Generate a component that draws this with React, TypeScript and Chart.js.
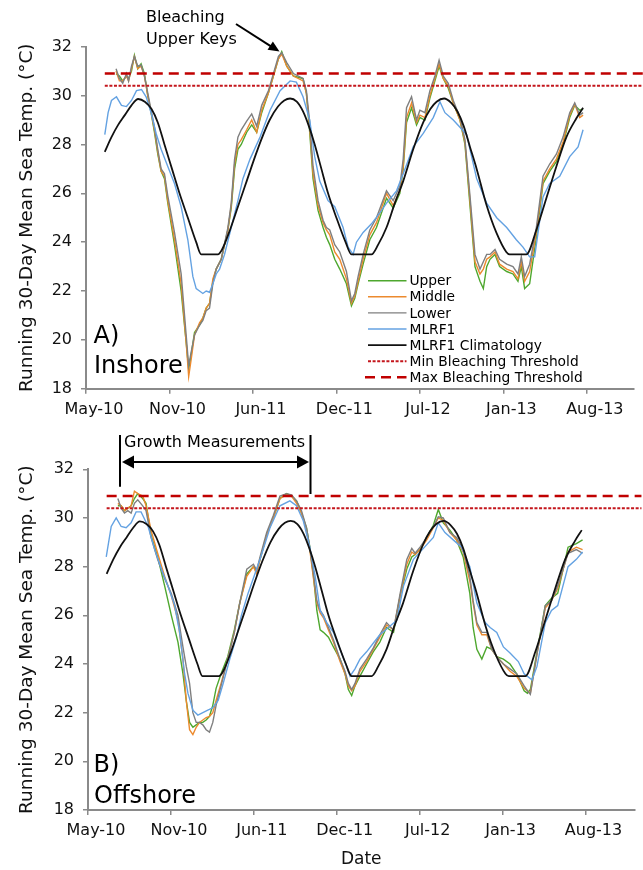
import React, { useEffect, useRef } from 'react';
import { Chart, registerables } from 'chart.js';

Chart.register(...registerables);

// ---------- axis ticks ----------
const tickDays = [0, 200, 400, 600, 800, 1000, 1200]; // days since 1 May 2010
const tickLabels = ['May-10', 'Nov-10', 'Jun-11', 'Dec-11', 'Jul-12', 'Jan-13', 'Aug-13'];

// ---------- bleaching thresholds ----------
const thresholdDays = [45, 1335];
const minThreshold = [30.4, 30.4];
const maxThreshold = [30.9, 30.9];

// ---------- MLRF1 climatology (both panels) ----------
const climDays = [45, 61, 77, 93, 109, 125, 141, 157, 172, 188, 206, 224, 244, 264, 276, 316, 326, 345, 365, 385, 405, 420, 440, 460, 475, 489, 505, 520, 535, 548, 564, 580, 600, 622, 636, 684, 700, 720, 740, 760, 784, 808, 825, 840, 858, 875, 890, 905, 920, 936, 960, 983, 1007, 1015, 1055, 1079, 1103, 1127, 1151, 1175, 1191];
const climTemps = [27.7, 28.3, 28.8, 29.2, 29.6, 29.86, 29.75, 29.45, 28.9, 28.0, 27.0, 26.0, 25.0, 24.0, 23.5, 23.5, 23.7, 24.5, 25.5, 26.5, 27.5, 28.2, 29.0, 29.55, 29.8, 29.88, 29.75, 29.35, 28.7, 28.0, 27.0, 26.0, 25.0, 24.0, 23.5, 23.5, 23.9, 24.6, 25.6, 26.5, 27.8, 28.9, 29.45, 29.75, 29.88, 29.7, 29.35, 28.75, 27.9, 27.0, 25.5, 24.4, 23.6, 23.5, 23.5, 24.5, 25.8, 27.1, 28.3, 29.07, 29.5];

// ---------- A) Inshore ----------
const inshoreReefDays = [72, 80, 88, 97, 102, 109, 116, 124, 132, 140, 148, 156, 164, 172, 180, 188, 196, 212, 228, 240, 246, 252, 260, 272, 280, 288, 296, 304, 312, 324, 340, 348, 356, 364, 372, 385, 397, 409, 421, 437, 449, 461, 469, 481, 497, 520, 528, 536, 544, 556, 568, 576, 584, 596, 608, 624, 636, 644, 652, 664, 680, 696, 720, 736, 752, 760, 768, 780, 792, 800, 812, 824, 836, 846, 856, 868, 880, 896, 908, 920, 932, 944, 952, 960, 968, 980, 991, 1008, 1023, 1035, 1043, 1051, 1063, 1079, 1095, 1111, 1127, 1143, 1159, 1171, 1183, 1191];
const inshoreUpper = [30.9, 30.8, 30.6, 30.8, 30.7, 31.0, 31.65, 31.1, 31.3, 30.9, 30.0, 29.3, 28.5, 27.6, 26.9, 26.6, 25.6, 23.9, 22.0, 19.9, 18.8, 19.4, 20.3, 20.6, 20.9, 21.3, 21.5, 22.4, 22.9, 23.3, 24.5, 25.4, 27.0, 27.8, 28.0, 28.5, 28.8, 28.5, 29.3, 30.1, 30.8, 31.5, 31.8, 31.2, 30.8, 30.7, 30.1, 28.5, 26.6, 25.3, 24.6, 24.2, 23.9, 23.3, 22.9, 22.3, 21.4, 21.7, 22.3, 23.1, 24.1, 24.6, 25.8, 25.4, 26.0, 27.0, 28.9, 29.5, 28.8, 29.1, 29.0, 29.9, 30.6, 31.2, 30.7, 30.3, 29.7, 29.0, 28.0, 25.5, 23.0, 22.4, 22.1, 23.0, 23.3, 23.5, 23.0, 22.8, 22.7, 22.4, 23.0, 22.1, 22.3, 24.2, 26.4, 26.9, 27.3, 28.0, 29.1, 29.6, 29.4, 29.45];
const inshoreMiddle = [31.0, 30.6, 30.6, 30.8, 30.6, 31.1, 31.6, 31.1, 31.2, 30.8, 30.0, 29.3, 28.6, 27.7, 26.9, 26.7, 25.7, 24.1, 22.3, 19.9, 18.5, 19.2, 20.2, 20.7, 20.9, 21.3, 21.5, 22.5, 22.9, 23.3, 24.5, 25.5, 27.2, 28.0, 28.2, 28.6, 29.0, 28.5, 29.4, 30.1, 30.8, 31.5, 31.7, 31.2, 30.8, 30.6, 30.1, 28.7, 26.8, 25.5, 24.8, 24.5, 24.3, 23.6, 23.3, 22.5, 21.5, 21.8, 22.4, 23.3, 24.3, 24.8, 26.0, 25.5, 26.1, 27.1, 29.1, 29.7, 28.9, 29.2, 29.1, 30.0, 30.7, 31.3, 30.7, 30.4, 29.7, 29.0, 28.1, 25.7, 23.2, 22.7, 22.9, 23.3, 23.4, 23.6, 23.1, 22.9, 22.8, 22.5, 23.2, 22.4, 22.8, 24.4, 26.5, 27.0, 27.4, 28.1, 29.2, 29.65, 29.1, 29.2];
const inshoreLower = [31.1, 30.7, 30.5, 30.9, 30.6, 31.2, 31.6, 31.2, 31.25, 30.8, 30.1, 29.4, 28.7, 27.8, 27.0, 26.8, 25.9, 24.4, 22.7, 20.2, 18.95, 19.5, 20.2, 20.6, 20.8, 21.2, 21.3, 22.3, 22.9, 23.3, 24.6, 25.6, 27.4, 28.3, 28.6, 28.95, 29.25, 28.75, 29.6, 30.2, 30.9, 31.6, 31.75, 31.35, 30.9, 30.7, 30.2, 28.9, 27.1, 25.7, 24.9, 24.6, 24.5, 23.9, 23.6, 22.8, 21.6, 21.9, 22.6, 23.5, 24.5, 25.0, 26.1, 25.7, 26.3, 27.4, 29.5, 29.95, 29.0, 29.4, 29.3, 30.2, 30.8, 31.45, 30.8, 30.5, 29.8, 29.1, 28.2, 25.9, 23.5, 22.9, 23.2, 23.5, 23.5, 23.7, 23.3, 23.1, 23.0, 22.7, 23.4, 22.6, 23.1, 24.6, 26.7, 27.2, 27.6, 28.3, 29.3, 29.7, 29.2, 29.3];
const inshoreBuoyDays = [45, 53, 61, 73, 85, 97, 109, 121, 133, 144, 156, 168, 180, 196, 212, 228, 244, 256, 264, 272, 280, 288, 296, 304, 312, 320, 332, 348, 364, 376, 393, 417, 441, 465, 489, 504, 520, 536, 548, 560, 580, 596, 616, 628, 640, 648, 664, 684, 704, 720, 744, 760, 784, 808, 832, 848, 860, 880, 896, 912, 936, 960, 984, 1008, 1031, 1047, 1063, 1075, 1095, 1111, 1135, 1159, 1179, 1191];
const inshoreBuoy = [28.4, 29.3, 29.8, 29.95, 29.6, 29.55, 29.8, 30.2, 30.25, 29.95, 29.3, 28.45, 27.8, 27.1, 26.4, 25.45, 24.1, 22.6, 22.1, 22.0, 21.9, 22.0, 21.95, 22.3, 22.7, 22.9, 23.5, 24.6, 25.7, 26.6, 27.4, 28.3, 29.4, 30.2, 30.6, 30.55, 29.95, 29.0, 27.5, 26.5, 25.7, 25.45, 24.6, 23.8, 23.5, 24.0, 24.4, 24.75, 25.2, 25.6, 26.1, 26.8, 27.9, 28.45, 29.1, 29.75, 29.3, 29.0, 28.7, 28.4, 26.6, 25.6, 25.0, 24.6, 24.1, 23.8, 23.4, 23.4, 25.85, 26.4, 26.7, 27.5, 27.9, 28.6];

// ---------- B) Offshore ----------
const offshoreReefDays = [72, 80, 88, 96, 104, 112, 120, 132, 140, 152, 168, 185, 201, 217, 229, 237, 245, 253, 261, 269, 277, 285, 293, 301, 309, 321, 337, 353, 366, 383, 399, 407, 415, 431, 447, 463, 479, 491, 503, 515, 527, 535, 544, 552, 560, 568, 580, 592, 608, 620, 628, 636, 644, 656, 672, 688, 704, 720, 737, 753, 769, 781, 789, 801, 817, 833, 845, 857, 873, 889, 905, 921, 929, 938, 950, 962, 974, 986, 1002, 1018, 1034, 1052, 1060, 1067, 1083, 1103, 1118, 1133, 1158, 1178, 1193];
const offshoreUpper = [30.5, 30.5, 30.3, 30.4, 30.5, 30.8, 31.0, 30.8, 30.6, 29.3, 28.4, 27.2, 26.0, 24.9, 23.6, 22.5, 21.6, 21.4, 21.5, 21.6, 21.6, 21.7, 21.85, 22.3, 23.0, 23.6, 24.3, 25.4, 26.5, 27.7, 28.0, 27.8, 28.3, 29.3, 30.0, 30.8, 31.0, 30.9, 30.7, 30.2, 29.6, 28.8, 27.6, 26.2, 25.4, 25.3, 25.1, 24.7, 24.2, 23.6, 22.95, 22.7, 23.1, 23.5, 24.0, 24.5, 24.9, 25.5, 25.3, 26.8, 27.9, 28.4, 28.5, 28.7, 29.2, 29.7, 30.35, 29.8, 29.5, 29.1, 28.4, 26.9, 25.5, 24.6, 24.2, 24.7, 24.6, 24.3, 24.2, 24.0, 23.6, 22.9, 22.8, 22.95, 24.5, 26.4, 26.7, 26.9, 28.8, 28.95, 29.1];
const offshoreMiddle = [30.6, 30.5, 30.3, 30.4, 30.5, 31.1, 31.0, 30.9, 30.5, 29.5, 28.55, 27.6, 26.8, 25.8, 24.2, 22.5, 21.3, 21.1, 21.4, 21.6, 21.7, 21.8, 21.85, 22.0, 22.5, 23.2, 24.2, 25.3, 26.5, 27.6, 28.0, 27.7, 28.3, 29.3, 30.0, 30.8, 30.95, 30.9, 30.6, 30.2, 29.5, 28.7, 27.5, 26.5, 26.1, 25.9, 25.4, 24.9, 24.1, 23.6, 23.1, 22.9, 23.1, 23.7, 24.1, 24.6, 25.1, 25.6, 25.4, 26.8, 28.1, 28.6, 28.5, 28.7, 29.1, 29.6, 30.0, 29.9, 29.4, 29.1, 28.6, 27.4, 26.5, 25.6, 25.2, 25.2, 24.6, 24.3, 24.0, 23.7, 23.5, 23.0, 22.9, 22.8, 24.4, 26.3, 26.6, 27.1, 28.6, 28.8, 28.7];
const offshoreLower = [30.8, 30.4, 30.2, 30.3, 30.2, 30.6, 30.75, 30.5, 30.3, 29.2, 28.3, 27.5, 26.9, 26.0, 24.7, 23.9, 23.2, 22.0, 21.6, 21.6, 21.5, 21.3, 21.2, 21.6, 22.3, 23.1, 24.2, 25.3, 26.5, 27.9, 28.1, 27.85, 28.4, 29.4, 30.1, 30.9, 31.0, 30.95, 30.7, 30.3, 29.6, 28.8, 27.7, 26.6, 26.2, 26.0, 25.5, 25.0, 24.2, 23.7, 23.2, 22.95, 23.2, 23.8, 24.2, 24.65, 25.2, 25.7, 25.4, 26.9, 28.3, 28.75, 28.55, 28.8, 29.2, 29.65, 30.05, 30.0, 29.4, 29.2, 28.7, 27.6, 26.6, 25.7, 25.3, 25.3, 24.6, 24.3, 24.0, 23.8, 23.6, 23.1, 22.9, 22.75, 24.4, 26.4, 26.6, 27.2, 28.55, 28.7, 28.55];
const offshoreBuoyDays = [44, 56, 68, 80, 92, 104, 116, 128, 145, 161, 177, 193, 209, 221, 233, 241, 253, 265, 277, 289, 301, 314, 326, 342, 358, 370, 386, 415, 439, 463, 487, 503, 519, 535, 548, 560, 576, 592, 608, 624, 632, 644, 656, 672, 688, 704, 728, 745, 761, 785, 809, 833, 845, 861, 881, 901, 921, 938, 958, 970, 986, 1002, 1018, 1038, 1052, 1071, 1083, 1103, 1118, 1133, 1158, 1178, 1193];
const offshoreBuoy = [28.4, 29.65, 30.0, 29.65, 29.6, 29.8, 30.25, 30.25, 29.65, 28.7, 27.9, 27.2, 26.4, 25.3, 23.6, 22.8, 22.1, 21.9, 22.0, 22.1, 22.2, 22.5, 23.2, 24.2, 25.1, 26.0, 26.9, 28.3, 29.6, 30.5, 30.7, 30.5, 29.9, 28.8, 27.6, 26.2, 25.7, 25.3, 24.6, 23.9, 23.5, 23.8, 24.2, 24.5, 24.85, 25.2, 25.55, 25.8, 27.2, 28.3, 28.75, 29.2, 29.8, 29.4, 29.1, 28.8, 28.0, 26.5, 25.7, 25.5, 25.3, 24.7, 24.45, 24.1, 23.6, 23.35, 23.9, 25.7, 26.2, 26.4, 28.0, 28.3, 28.6];

// ---------- styling ----------
const FONT = "'DejaVu Sans', 'Liberation Sans', sans-serif";
const AXIS = '#8a8a8a';
const GREEN = '#4EA72E';
const ORANGE = '#EC8A2E';
const GRAY = '#7F7F7F';
const BLUE = '#64A2E2';
const BLACK = '#111111';
const RED_DOT = '#C4161C';
const RED_DASH = '#C00000';

const pts = (days: number[], temps: number[]) => days.map((x, i) => ({ x, y: temps[i] }));

function arrowHead(ctx: CanvasRenderingContext2D, fx: number, fy: number, tx: number, ty: number, len: number, half: number) {
  const a = Math.atan2(ty - fy, tx - fx);
  const bx = tx - len * Math.cos(a);
  const by = ty - len * Math.sin(a);
  ctx.beginPath();
  ctx.moveTo(tx, ty);
  ctx.lineTo(bx + half * Math.sin(a), by - half * Math.cos(a));
  ctx.lineTo(bx - half * Math.sin(a), by + half * Math.cos(a));
  ctx.closePath();
  ctx.fill();
}

function makeConfig(isTop: boolean): any {
  const datasets: any[] = [
    { label: 'Upper', data: pts(isTop ? inshoreReefDays : offshoreReefDays, isTop ? inshoreUpper : offshoreUpper), borderColor: GREEN, borderWidth: 1.4 },
    { label: 'Middle', data: pts(isTop ? inshoreReefDays : offshoreReefDays, isTop ? inshoreMiddle : offshoreMiddle), borderColor: ORANGE, borderWidth: 1.4 },
    { label: 'Lower', data: pts(isTop ? inshoreReefDays : offshoreReefDays, isTop ? inshoreLower : offshoreLower), borderColor: GRAY, borderWidth: 1.4 },
    { label: 'MLRF1', data: pts(isTop ? inshoreBuoyDays : offshoreBuoyDays, isTop ? inshoreBuoy : offshoreBuoy), borderColor: BLUE, borderWidth: 1.4 },
    { label: 'MLRF1 Climatology', data: pts(climDays, climTemps), borderColor: BLACK, borderWidth: 1.8, cubicInterpolationMode: 'monotone' },
    { label: 'Min Bleaching Threshold', data: pts(thresholdDays, minThreshold), borderColor: RED_DOT, borderWidth: 2, borderDash: [3, 1.6], clip: false },
    { label: 'Max Bleaching Threshold', data: pts(thresholdDays, maxThreshold), borderColor: RED_DASH, borderWidth: 2.5, borderDash: [10, 6], clip: false },
  ].map((d, i) => ({ ...d, pointRadius: 0, tension: 0, fill: false, order: -i, backgroundColor: d.borderColor }));

  const annotations = {
    id: isTop ? 'annotTop' : 'annotBottom',
    afterDraw(chart: any) {
      const ctx: CanvasRenderingContext2D = chart.ctx;
      ctx.save();
      ctx.fillStyle = '#000';
      ctx.strokeStyle = '#000';
      ctx.textAlign = 'left';
      ctx.textBaseline = 'alphabetic';
      if (isTop) {
        // legend
        const ds = chart.data.datasets;
        ctx.font = `13.8px ${FONT}`;
        ds.forEach((d: any, i: number) => {
          const y = 280.7 + 16.1 * i;
          ctx.save();
          ctx.strokeStyle = d.borderColor;
          ctx.lineWidth = d.borderWidth;
          ctx.setLineDash(d.borderDash || []);
          ctx.beginPath();
          ctx.moveTo(i === 6 ? 365 : 368, y);
          ctx.lineTo(406.5, y);
          ctx.stroke();
          ctx.restore();
          ctx.fillStyle = '#000';
          ctx.fillText(d.label, 409.5, y + 4.6);
        });
        // panel label
        ctx.font = `24px ${FONT}`;
        ctx.fillText('A)', 93.5, 343.3);
        ctx.fillText('Inshore', 94, 373.3);
        // bleaching note
        ctx.font = `16px ${FONT}`;
        ctx.fillText('Bleaching', 146, 22);
        ctx.fillText('Upper Keys', 146, 43.5);
        ctx.lineWidth = 2;
        ctx.beginPath();
        ctx.moveTo(236, 24);
        ctx.lineTo(271, 46.3);
        ctx.stroke();
        arrowHead(ctx, 236, 24, 279.5, 51.5, 11, 5);
      } else {
        ctx.font = `24px ${FONT}`;
        ctx.fillText('B)', 93.5, 351.7);
        ctx.fillText('Offshore', 94, 383.3);
        ctx.font = `16px ${FONT}`;
        ctx.fillText('Growth Measurements', 124, 26.7);
        ctx.lineWidth = 2;
        ctx.beginPath();
        ctx.moveTo(120, 15);
        ctx.lineTo(120, 66.7);
        ctx.moveTo(310.5, 15);
        ctx.lineTo(310.5, 74);
        ctx.moveTo(132, 42);
        ctx.lineTo(299, 42);
        ctx.stroke();
        arrowHead(ctx, 300, 42, 122, 42, 12, 6.5);
        arrowHead(ctx, 130, 42, 309, 42, 12, 6.5);
      }
      ctx.restore();
    },
  };

  const tickFont = { family: FONT, size: 16 };
  const grid = { display: true, drawOnChartArea: false, drawTicks: true, tickLength: 5, color: AXIS, lineWidth: 1.5 };
  const border = { display: true, color: AXIS, width: 2 };

  return {
    type: 'line',
    data: { datasets },
    plugins: [annotations],
    options: {
      responsive: false,
      animation: false,
      devicePixelRatio: 1,
      events: [],
      layout: { padding: isTop ? { top: 46.7, right: 9, bottom: 0, left: 0 } : { top: 49.3, right: 8.6, bottom: 0, left: 0 } },
      plugins: { legend: { display: false }, tooltip: { enabled: false }, title: { display: false } },
      scales: {
        x: {
          type: 'linear',
          min: 0,
          max: isTop ? 1313 : 1318,
          afterBuildTicks: (s: any) => { s.ticks = tickDays.map((v) => ({ value: v })); },
          afterFit: (s: any) => { s.height = isTop ? 31.2 : 60; },
          ticks: {
            callback: (v: number) => { const k = tickDays.indexOf(v); return k >= 0 ? tickLabels[k] : ''; },
            font: tickFont, color: '#111', labelOffset: 8, padding: 6, maxRotation: 0, autoSkip: false,
          },
          grid, border,
          title: isTop ? { display: false } : { display: true, text: 'Date', font: { family: FONT, size: 17 }, color: '#111', padding: { top: 0, bottom: 0 } },
        },
        y: {
          type: 'linear',
          min: 18,
          max: 32,
          afterFit: (s: any) => { s.width = isTop ? 86 : 88; },
          ticks: { stepSize: 2, font: tickFont, color: '#111', padding: 9 },
          grid, border,
          title: { display: true, text: 'Running 30-Day Mean Sea Temp. (°C)', font: { family: FONT, size: 18.5 }, color: '#111', padding: { top: 16, bottom: 0 } },
        },
      },
    },
  };
}

export default function App() {
  const topRef = useRef<HTMLCanvasElement>(null);
  const botRef = useRef<HTMLCanvasElement>(null);
  useEffect(() => {
    const c1 = new Chart(topRef.current as HTMLCanvasElement, makeConfig(true));
    const c2 = new Chart(botRef.current as HTMLCanvasElement, makeConfig(false));
    return () => { c1.destroy(); c2.destroy(); };
  }, []);
  return (
    <div style={{ position: 'absolute', left: 0, top: 0, width: 643, height: 870, background: '#fff' }}>
      <canvas ref={topRef} width={643} height={420} style={{ position: 'absolute', left: 0, top: 0, width: 643, height: 420 }} />
      <canvas ref={botRef} width={643} height={450} style={{ position: 'absolute', left: 0, top: 420, width: 643, height: 450 }} />
    </div>
  );
}
